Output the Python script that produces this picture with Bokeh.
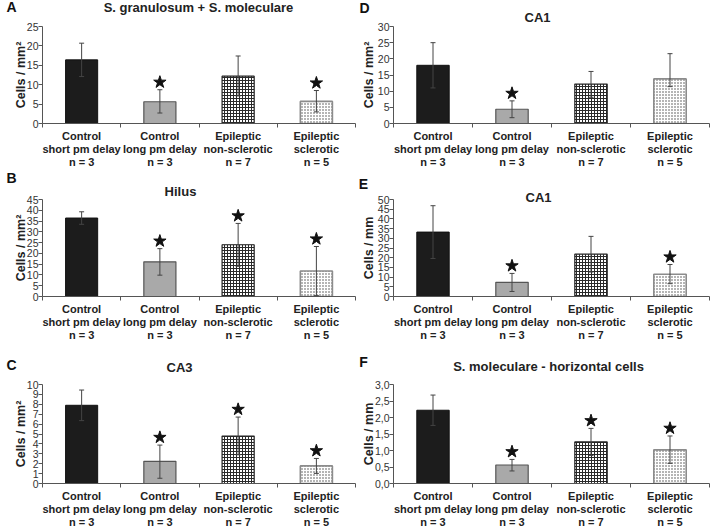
from bokeh.plotting import figure
from bokeh.layouts import column, row
from bokeh.models import (Range1d, FixedTicker, Label, Whisker, TeeHead,
                          ColumnDataSource, CustomJSTickFormatter)
from bokeh.embed import file_html
from bokeh.resources import INLINE

# ---------------- data ----------------
group_labels = ["Control\nshort pm delay\nn = 3",
                "Control\nlong pm delay\nn = 3",
                "Epileptic\nnon-sclerotic\nn = 7",
                "Epileptic\nsclerotic\nn = 5"]

a_title = "S. granulosum + S. moleculare"
a_mean = [16.4, 5.6, 12.2, 5.7]
a_lower = [12.1, 2.7, 7.1, 3.0]
a_upper = [20.7, 8.7, 17.4, 8.5]
a_star = [0, 1, 0, 1]
a_ticks = [0, 5, 10, 15, 20, 25]

b_title = "Hilus"
b_mean = [36.4, 16.1, 24.0, 11.8]
b_lower = [33.5, 9.9, 14.0, 0.4]
b_upper = [39.3, 22.2, 33.9, 23.2]
b_star = [0, 1, 1, 1]
b_ticks = [0, 5, 10, 15, 20, 25, 30, 35, 40, 45]

c_title = "CA3"
c_mean = [7.9, 2.24, 4.8, 1.78]
c_lower = [6.35, 0.53, 2.9, 1.02]
c_upper = [9.44, 3.88, 6.71, 2.53]
c_star = [0, 1, 1, 1]
c_ticks = [0, 1, 2, 3, 4, 5, 6, 7, 8, 9, 10]

d_title = "CA1"
d_mean = [18.0, 4.4, 12.2, 13.8]
d_lower = [11.0, 1.8, 8.1, 11.4]
d_upper = [25.0, 7.0, 16.1, 21.6]
d_star = [0, 1, 0, 0]
d_ticks = [0, 5, 10, 15, 20, 25, 30]

e_title = "CA1"
e_mean = [33.2, 7.3, 21.8, 11.5]
e_lower = [19.6, 2.6, 12.6, 6.6]
e_upper = [46.8, 11.9, 31.0, 16.5]
e_star = [0, 1, 0, 1]
e_ticks = [0, 5, 10, 15, 20, 25, 30, 35, 40, 45, 50]

f_title = "S. moleculare - horizontal cells"
f_mean = [2.22, 0.56, 1.26, 1.02]
f_lower = [1.76, 0.38, 0.85, 0.61]
f_upper = [2.68, 0.73, 1.67, 1.44]
f_star = [0, 1, 1, 1]
f_ticks = [0.0, 0.5, 1.0, 1.5, 2.0, 2.5, 3.0]

ylab_area = "Cells / mm\u00b2"
ylab_len = "Cells / mm"

# ---------------- styles ----------------
FONT = "Liberation Sans"
TXT = "#222222"
AX = "#555555"
bar_fill = ["#1c1c1c", "#a9a9a9", "white", "white"]
bar_line = ["#111111", "#555555", "#222222", "#8c8c8c"]
bar_line_width = [1, 1.2, 1.2, 1.6]
bar_hatch = [" ", " ", "+", "."]
bar_hatch_color = ["black", "black", "#2a2a2a", "#444444"]
bar_hatch_weight = [1, 1, 1, 1]
bar_hatch_scale = [3, 3, 3, 3]


def make_panel(letter, title, ylabel, mean, lower, upper, star, ticks, comma,
               width, left, right, top, frame_h, bottom,
               title_cx, title_dy, letter_side, letter_x, letter_dy, ylab_standoff):
    ymax = ticks[-1]
    height = top + frame_h + bottom
    p = figure(width=width, height=height, x_range=Range1d(0, 4),
               y_range=Range1d(0, ymax), output_backend="svg",
               toolbar_location=None, min_border_left=left,
               min_border_right=right, min_border_top=top,
               min_border_bottom=bottom)
    p.xgrid.visible = False
    p.ygrid.visible = False
    p.outline_line_color = None
    p.background_fill_color = "white"
    p.border_fill_color = "white"

    xs = [i + 0.5 for i in range(len(mean))]
    for i in range(len(mean)):
        p.vbar(x=[xs[i]], top=[mean[i]], bottom=0, width=0.41,
               fill_color=bar_fill[i], line_color=bar_line[i],
               line_width=bar_line_width[i],
               hatch_pattern=bar_hatch[i], hatch_color=bar_hatch_color[i],
               hatch_scale=bar_hatch_scale[i], hatch_weight=bar_hatch_weight[i])

    src = ColumnDataSource(dict(x=xs, lower=lower, upper=upper))
    w = Whisker(source=src, base="x", upper="upper", lower="lower",
                dimension="height", line_color="#444444", line_width=1,
                level="overlay",
                upper_head=TeeHead(size=5, line_color="#444444", line_width=1),
                lower_head=TeeHead(size=5, line_color="#444444", line_width=1))
    p.add_layout(w)

    sx = [xs[i] for i in range(len(mean)) if star[i]]
    sy = [upper[i] + 0.078 * ymax for i in range(len(mean)) if star[i]]
    p.scatter(sx, sy, marker="star", size=13, color="#111111")

    # y axis
    ya = p.yaxis[0]
    ya.ticker = FixedTicker(ticks=ticks)
    if comma:
        ya.formatter = CustomJSTickFormatter(code="return tick.toFixed(1).replace('.', ',')")
    ya.axis_line_color = AX
    ya.major_tick_line_color = AX
    ya.major_tick_out = 4
    ya.major_tick_in = 0
    ya.minor_tick_line_color = None
    ya.major_label_standoff = 0
    ya.major_label_text_font = FONT
    ya.major_label_text_font_size = "10.5px"
    ya.major_label_text_color = "#333333"
    ya.axis_label = ylabel
    ya.axis_label_text_font = FONT
    ya.axis_label_text_font_style = "bold"
    ya.axis_label_text_font_size = "12.5px"
    ya.axis_label_text_color = TXT
    ya.axis_label_standoff = ylab_standoff

    # x axis
    xa = p.xaxis[0]
    xa.ticker = FixedTicker(ticks=xs, minor_ticks=[0, 1, 2, 3, 4])
    xa.formatter = CustomJSTickFormatter(args=dict(labels=group_labels),
                                         code="return labels[Math.floor(tick)]")
    xa.axis_line_color = AX
    xa.major_tick_line_color = None
    xa.major_tick_out = 0
    xa.major_tick_in = 0
    xa.minor_tick_line_color = AX
    xa.minor_tick_out = 4
    xa.minor_tick_in = 0
    xa.major_label_standoff = 2
    xa.major_label_text_font = FONT
    xa.major_label_text_font_style = "bold"
    xa.major_label_text_font_size = "11px"
    xa.major_label_text_color = TXT
    xa.major_label_text_line_height = 1.09

    # panel title in the top border, panel letter in a side border (not clipped)
    p.add_layout(Label(x=title_cx, y=title_dy, x_units="screen",
                       y_units="screen", text=title, text_align="center",
                       text_baseline="middle", text_font=FONT,
                       text_font_style="bold", text_font_size="13px",
                       text_line_height=1.0, text_color=TXT), "above")
    p.add_layout(Label(x=letter_x, y=frame_h + letter_dy, x_units="screen",
                       y_units="screen", text=letter, text_align="center",
                       text_baseline="middle", text_font=FONT,
                       text_font_style="bold", text_font_size="14px",
                       text_line_height=1.0, text_color="#111111"), letter_side)
    return p


# geometry: width, left, right, top, frame_h, bottom,
#           title_cx, title_dy, letter_side, letter_x, letter_dy, ylab_standoff
pA = make_panel("A", a_title, ylab_area, a_mean, a_lower, a_upper, a_star, a_ticks, False,
                358, 30, 3, 26, 100, 44, 156, 19, "left", 11, 16.5, -4)
pD = make_panel("D", d_title, ylab_area, d_mean, d_lower, d_upper, d_star, d_ticks, False,
                362, 35, 11, 24, 102, 44, 144, 9, "right", -345, 14, -1)
pB = make_panel("B", b_title, ylab_area, b_mean, b_lower, b_upper, b_star, b_ticks, False,
                358, 30, 3, 29, 103, 48, 138, 8, "left", 11, 16, -4)
pE = make_panel("E", e_title, ylab_len, e_mean, e_lower, e_upper, e_star, e_ticks, False,
                362, 35, 11, 23, 103, 54, 145, 2, "right", -346, 10, -1)
pC = make_panel("C", c_title, ylab_area, c_mean, c_lower, c_upper, c_star, c_ticks, False,
                358, 30, 3, 34, 102, 44, 137, 17, "left", 11, 17, -4)
pF = make_panel("F", f_title, ylab_len, f_mean, f_lower, f_upper, f_star, f_ticks, True,
                362, 35, 11, 34, 104, 42, 155, 18, "right", -346, 18, -4)

layout = column(row(pA, pD), row(pB, pE), row(pC, pF))
open("out.html", "w").write(file_html(layout, INLINE, "Cell densities"))
